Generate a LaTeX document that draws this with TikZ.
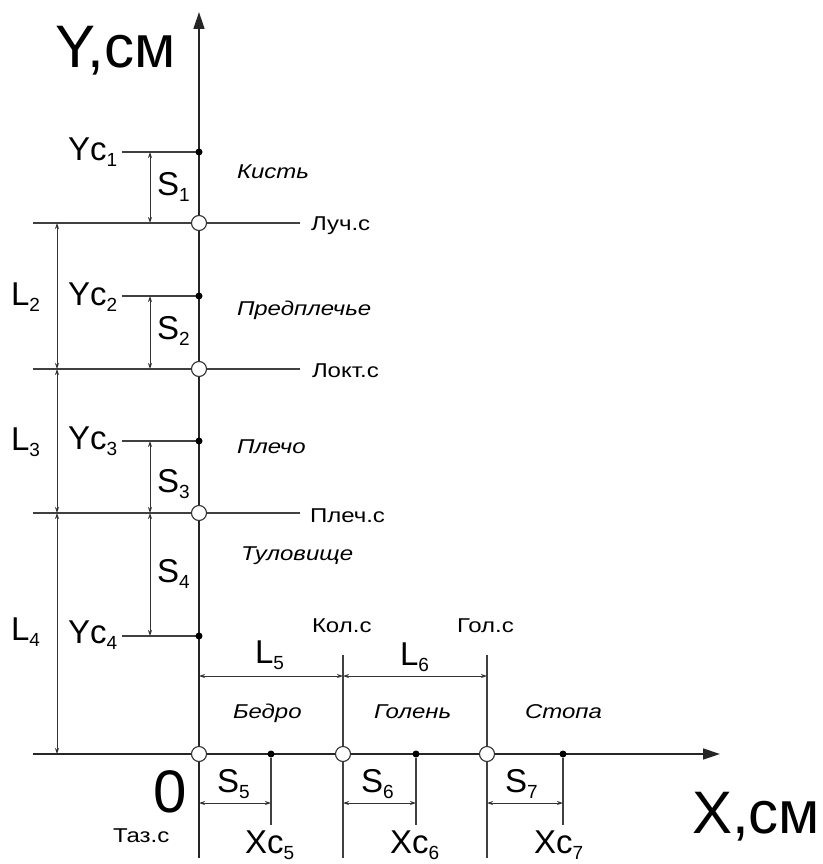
\documentclass[tikz,border=0pt]{standalone}
\usepackage{fontspec}
\setmainfont{Liberation Sans}
\newfontfamily\widefont[FakeStretch=1.2]{Liberation Sans}
\usetikzlibrary{arrows.meta,positioning,backgrounds}
\newcommand\sbs[1]{\raisebox{-6pt}{\fontsize{19}{19}\selectfont #1}}

\begin{document}
\begin{tikzpicture}
	[x=1pt,y=-1pt,every node/.style={inner sep=0pt,outer sep=0pt},
	 joint/.style={circle,draw=black!80,fill=white,line width=1.1pt,minimum size=15pt},
	 mass/.style={circle,fill=black,minimum size=7pt},
	 rule/.style={draw=black!75,line width=1.3pt},
	 dim/.style={draw=black!80,line width=0.9pt,{Stealth[length=6pt,width=4pt]}-{Stealth[length=6pt,width=4pt]}},
	 axis/.style={draw=black!85,line width=1.5pt,-{Triangle[length=17pt,width=11pt]}},
	 sym/.style={anchor=base west,font=\fontsize{33}{33}\selectfont},
	 big/.style={anchor=base west,font=\fontsize{60}{60}\selectfont},
	 jname/.style={anchor=base west,font=\widefont\fontsize{20}{20}\selectfont},
	 part/.style={anchor=base west,font=\widefont\itshape\fontsize{20}{20}\selectfont}]

	%\draw[help lines] (0,0) grid (822,864);
	\useasboundingbox (0,0) rectangle (822,864);

	% joints
	\node[joint] (luch) at (199,223) {};
	\node[joint] (lokt) at (199,369) {};
	\node[joint] (plech) at (199,513) {};
	\node[joint] (taz) at (199,754) {};
	\node[joint] (kol) at (343,754) {};
	\node[joint] (gol) at (487,754) {};

	% centres of mass
	\node[mass] (c1) at (199,152) {};
	\node[mass] (c2) at (199,296) {};
	\node[mass] (c3) at (199,441) {};
	\node[mass] (c4) at (199,636) {};
	\node[mass] (c5) at (271,754) {};
	\node[mass] (c6) at (416,754) {};
	\node[mass] (c7) at (563,754) {};

	\coordinate (ytip) at (199,12);
	\coordinate (bot) at (199,858);
	\coordinate (xtip) at (720,754);
	\coordinate (lft) at (33,0);
	\coordinate (rgt) at (300,0);
	\coordinate (yc) at (122,0);
	\coordinate (sx) at (150,0);
	\coordinate (lx) at (57,0);
	\coordinate (ly) at (0,676);
	\coordinate (sy) at (0,803);

	\begin{scope}[on background layer]
		\draw[axis] (bot) -- (ytip);
		\draw[axis] (lft |- taz) -- (xtip);
		\foreach \j in {luch,lokt,plech} \draw[rule] (lft |- \j) -- (rgt |- \j);
		\foreach \c in {c1,c2,c3,c4} \draw[rule] (yc |- \c) -- (\c);
		\foreach \j in {kol,gol} \draw[rule] (\j |- 0,655) -- (\j |- bot);
		\foreach \c in {c5,c6,c7} \draw[rule] (\c) -- (\c |- 0,825);
	\end{scope}

	% dimensions
	\draw[dim] (sx |- c1) -- (sx |- luch);
	\draw[dim] (sx |- c2) -- (sx |- lokt);
	\draw[dim] (sx |- c3) -- (sx |- plech);
	\draw[dim] (sx |- plech) -- (sx |- c4);
	\draw[dim] (lx |- luch) -- (lx |- lokt);
	\draw[dim] (lx |- lokt) -- (lx |- plech);
	\draw[dim] (lx |- plech) -- (lx |- taz);
	\draw[dim] (taz |- ly) -- (kol |- ly);
	\draw[dim] (kol |- ly) -- (gol |- ly);
	\draw[dim] (taz |- sy) -- (c5 |- sy);
	\draw[dim] (kol |- sy) -- (c6 |- sy);
	\draw[dim] (gol |- sy) -- (c7 |- sy);

	% axes
	\node[big] (ylab) at (55,68) {Y,см};
	\node[big] (xlab) at (692,833) {X,см};
	\node[big] (zero) at (153,812) {0};
	\node[jname] (tazlab) at (113,842) {Таз.с};

	% joint names
	\node[jname] (luchlab) at (311,230) {Луч.с};
	\node[jname] (loktlab) at (312,377) {Локт.с};
	\node[jname] (plechlab) at (310,522) {Плеч.с};
	\node[jname] (kollab) at (312,632) {Кол.с};
	\node[jname] (gollab) at (457,632) {Гол.с};

	% segments
	\node[part] (p1) at (237,178) {Кисть};
	\node[part] (p2) at (237,315) {Предплечье};
	\node[part] (p3) at (237,453) {Плечо};
	\node[part] (p4) at (241,560) {Туловище};
	\node[part] (p5) at (233,718) {Бедро};
	\node[part] (p6) at (374,718) {Голень};
	\node[part] (p7) at (525,718) {Стопа};

	% coordinates of centres
	\node[sym] (yc1) at (68,160) {Yc\sbs{1}};
	\node[sym] (yc2) at (68,305) {Yc\sbs{2}};
	\node[sym] (yc3) at (68,449) {Yc\sbs{3}};
	\node[sym] (yc4) at (68,643) {Yc\sbs{4}};
	\node[sym] (xc5) at (245,853) {Xc\sbs{5}};
	\node[sym] (xc6) at (390,853) {Xc\sbs{6}};
	\node[sym] (xc7) at (534,853) {Xc\sbs{7}};

	% distances
	\node[sym] (s1) at (157,195) {S\sbs{1}};
	\node[sym] (s2) at (157,339) {S\sbs{2}};
	\node[sym] (s3) at (157,492) {S\sbs{3}};
	\node[sym] (s4) at (157,582) {S\sbs{4}};
	\node[sym] (s5) at (217,792) {S\sbs{5}};
	\node[sym] (s6) at (361,792) {S\sbs{6}};
	\node[sym] (s7) at (505,792) {S\sbs{7}};

	% lengths
	\node[sym] (l2) at (11,305) {L\sbs{2}};
	\node[sym] (l3) at (11,450) {L\sbs{3}};
	\node[sym] (l4) at (11,640) {L\sbs{4}};
	\node[sym] (l5) at (255,663) {L\sbs{5}};
	\node[sym] (l6) at (400,665) {L\sbs{6}};

\end{tikzpicture}
\end{document}
